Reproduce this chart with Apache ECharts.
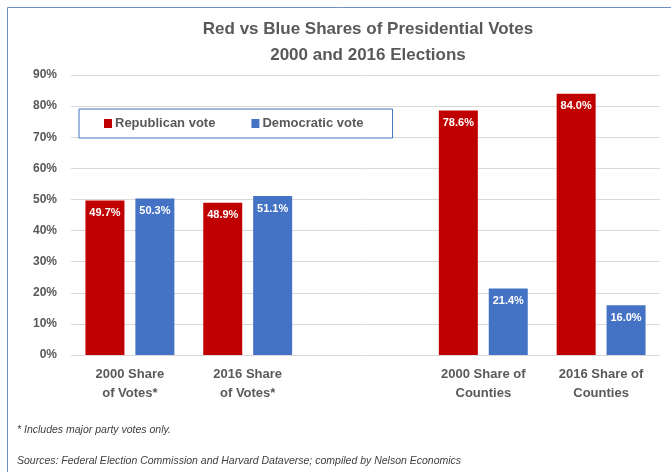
<!DOCTYPE html>
<html>
<head>
<meta charset="utf-8">
<script src="https://cdn.jsdelivr.net/npm/echarts@6/dist/echarts.min.js"></script>
<style>
  html, body { margin: 0; padding: 0; background: #fff; }
  #chart { width: 671px; height: 472px; }
</style>
</head>
<body>
<div id="chart"></div>
<script>
// Categories (the blank one separates the vote and county groups)
const categories = ['2000 Share\nof Votes*', '2016 Share\nof Votes*', '', '2000 Share of\nCounties', '2016 Share of\nCounties'];
// Shares in percent
const republican = [49.7, 48.9, null, 78.6, 84.0];
const democratic = [50.3, 51.1, null, 21.4, 16.0];
const seriesNames = ['Republican vote', 'Democratic vote'];
const yTicks = [0, 10, 20, 30, 40, 50, 60, 70, 80, 90];

const FONT = '"Liberation Sans", Arial, sans-serif';
const GRAY = '#595959';

const chart = echarts.init(document.getElementById('chart'), null, { renderer: 'canvas' });

const labelStyle = {
  show: true,
  position: 'insideTop',
  distance: 7,
  color: '#ffffff',
  fontFamily: FONT,
  fontWeight: 'bold',
  fontSize: 11,
  formatter: p => p.value == null ? '' : p.value.toFixed(1) + '%'
};

chart.setOption({
  animation: false,
  backgroundColor: '#ffffff',
  title: {
    text: 'Red vs Blue Shares of Presidential Votes\n2000 and 2016 Elections',
    left: 363,
    textAlign: 'center',
    top: 11,
    textStyle: {
      fontFamily: FONT,
      fontWeight: 'bold',
      fontSize: 17,
      lineHeight: 26,
      color: GRAY
    }
  },
  legend: {
    data: seriesNames,
    left: 79,
    top: 109,
    orient: 'horizontal',
    icon: 'rect',
    itemWidth: 8,
    itemHeight: 9,
    itemGap: 36,
    padding: [8, 29, 8, 25],
    borderColor: '#4472c4',
    borderWidth: 1,
    backgroundColor: '#ffffff',
    textStyle: {
      fontFamily: FONT,
      fontWeight: 'bold',
      fontSize: 13,
      color: GRAY,
      padding: [0, 0, 0, -2]
    }
  },
  grid: {
    left: 71,
    right: 11,
    top: 75,
    bottom: 117,
    containLabel: false
  },
  xAxis: {
    type: 'category',
    data: categories,
    axisTick: { show: false },
    axisLine: { show: true, lineStyle: { color: '#d9d9d9', width: 1 } },
    axisLabel: {
      interval: 0,
      margin: 10,
      fontFamily: FONT,
      fontWeight: 'bold',
      fontSize: 13,
      lineHeight: 19,
      color: GRAY
    },
    z: 5
  },
  yAxis: {
    type: 'value',
    min: yTicks[0],
    max: yTicks[yTicks.length - 1],
    interval: 10,
    axisLine: { show: false },
    axisTick: { show: false },
    splitLine: { lineStyle: { color: '#d9d9d9', width: 1 } },
    axisLabel: {
      margin: 14,
      fontFamily: FONT,
      fontWeight: 'bold',
      fontSize: 12,
      color: GRAY,
      formatter: v => v + '%'
    }
  },
  series: [
    {
      name: seriesNames[0],
      type: 'bar',
      data: republican,
      barWidth: 39,
      barGap: '28%',
      itemStyle: { color: '#c00000' },
      label: labelStyle
    },
    {
      name: seriesNames[1],
      type: 'bar',
      data: democratic,
      barWidth: 39,
      itemStyle: { color: '#4472c4' },
      label: labelStyle
    }
  ],
  graphic: [
    {
      type: 'polyline',
      shape: { points: [[7.5, 472], [7.5, 7.5], [671, 7.5]] },
      style: { stroke: '#6f8fcb', lineWidth: 1, fill: null }
    },
    {
      type: 'text',
      left: 17,
      top: 425,
      style: {
        text: '* Includes major party votes only.',
        font: 'italic 10.5px ' + FONT,
        fill: '#404040'
      }
    },
    {
      type: 'text',
      left: 17,
      top: 456,
      style: {
        text: 'Sources: Federal Election Commission and Harvard Dataverse; compiled by Nelson Economics',
        font: 'italic 10.5px ' + FONT,
        fill: '#404040'
      }
    }
  ]
});
</script>
</body>
</html>
